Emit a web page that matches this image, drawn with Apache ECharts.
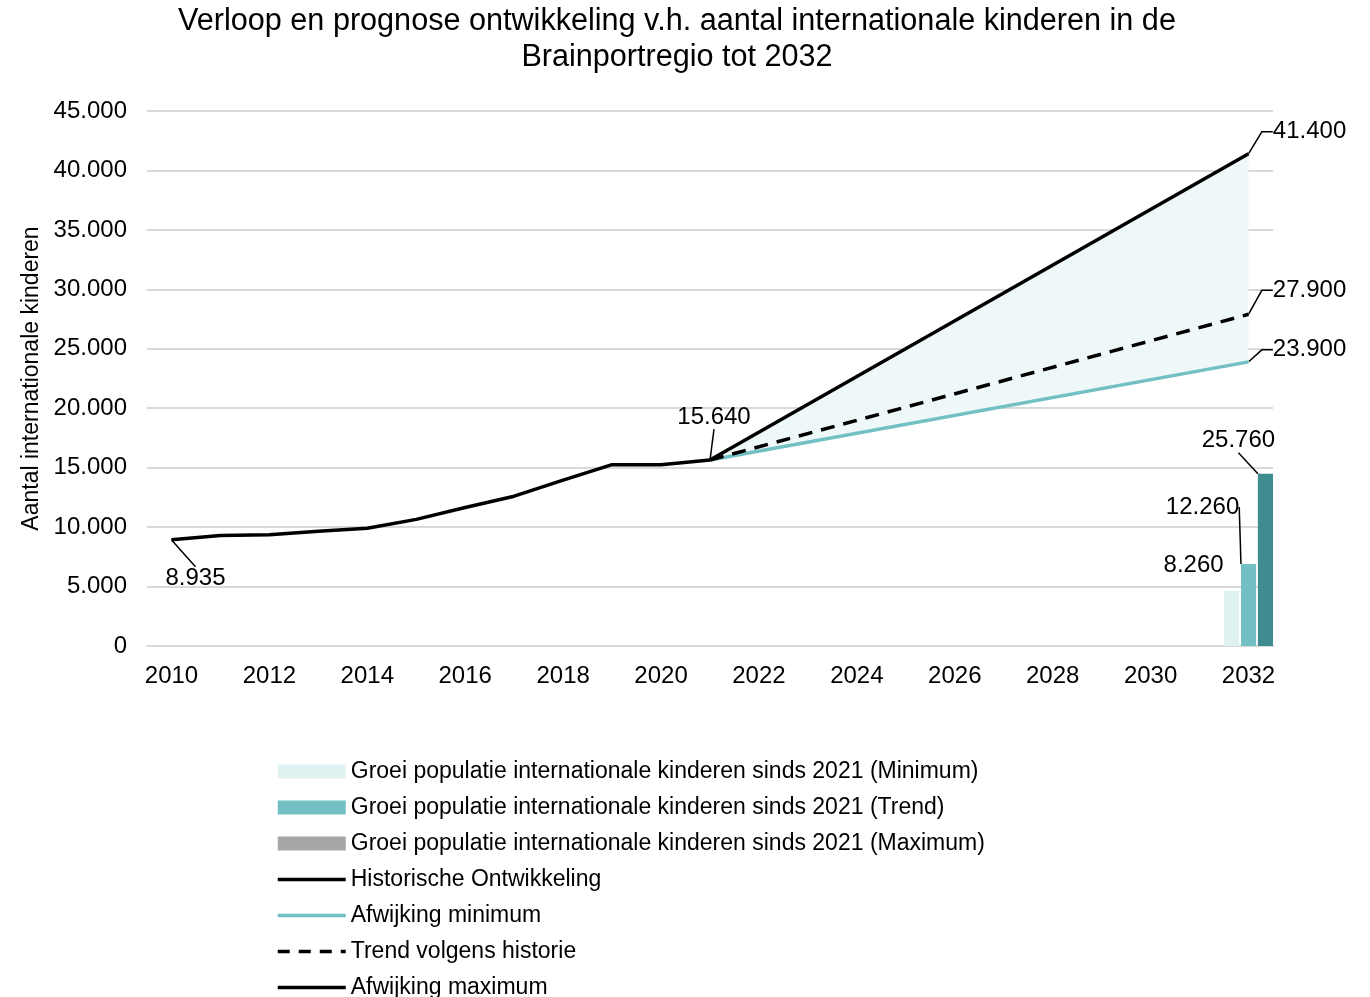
<!DOCTYPE html>
<html><head><meta charset="utf-8">
<script src="https://cdn.jsdelivr.net/npm/echarts@6/dist/echarts.min.js"></script>
<style>html,body{margin:0;padding:0;background:#fff}#c{width:1370px;height:997px}</style>
</head><body><div id="c"></div>
<script>
// ---- data ----
const years = ['2010','2011','2012','2013','2014','2015','2016','2017','2018','2019','2020','2021',
               '2022','2023','2024','2025','2026','2027','2028','2029','2030','2031','2032'];
const histYears = ['2010','2011','2012','2013','2014','2015','2016','2017','2018','2019','2020','2021'];
const historical = [8935, 9300, 9350, 9650, 9900, 10650, 11650, 12600, 13950, 15250, 15250, 15640];
const projYears = ['2021', '2032'];
const projMin = [15640, 23900];
const projTrend = [15640, 27900];
const projMax = [15640, 41400];
const barYears = ['2032'];
const growthMin = [8260];
const growthTrend = [12260];
const growthMax = [25760];
const names = [
  'Groei populatie internationale kinderen sinds 2021 (Minimum)',
  'Groei populatie internationale kinderen sinds 2021 (Trend)',
  'Groei populatie internationale kinderen sinds 2021 (Maximum)',
  'Historische Ontwikkeling',
  'Afwijking minimum',
  'Trend volgens historie',
  'Afwijking maximum'
];

const FONT = 'Liberation Sans, Arial, sans-serif';
const NUM = 24;
const fmt = v => String(v).replace(/\B(?=(\d{3})+(?!\d))/g, '.');
const labelFmt = p => fmt(Array.isArray(p.value) ? p.value[1] : p.value);
const lineLabelStyle = {color: '#000', width: 1.5};

function pairs(xs, ys) { return xs.map((x, i) => [x, ys[i]]); }
function labeled(pt, len2, showLine) {
  return {
    value: pt, symbol: 'circle', symbolSize: 1,
    label: {show: true, position: 'inside', formatter: labelFmt, fontSize: NUM, fontFamily: FONT, color: '#000'},
    labelLine: {show: showLine !== false, length2: len2 || 0, lineStyle: lineLabelStyle}
  };
}

const histData = pairs(histYears, historical).map((p, i, a) =>
  (i === 0 || i === a.length - 1) ? labeled(p, 0) : p);
function projData(vals) {
  return pairs(projYears, vals).map((p, i) => i === 1 ? labeled(p, 11) : p);
}
const bandBase = pairs(projYears, projMin);
const bandSpan = projYears.map((y, i) => [y, projMax[i] - projMin[i]]);

function barSeries(name, vals, color, dx, dy, showLine) {
  return {
    name, type: 'bar', yAxisIndex: 1, barCategoryGap: '0%', barGap: '12%',
    itemStyle: {color},
    data: pairs(barYears, vals),
    label: {show: true, position: 'top', distance: 0, formatter: labelFmt, fontSize: NUM, fontFamily: FONT, color: '#000'},
    labelLine: {show: showLine, lineStyle: lineLabelStyle},
    labelLayout: {dx, dy},
    z: 3
  };
}
const hideSym = {opacity: 0};

const chart = echarts.init(document.getElementById('c'));
chart.setOption({
  animation: false,
  title: {
    text: 'Verloop en prognose ontwikkeling v.h. aantal internationale kinderen in de\nBrainportregio tot 2032',
    left: 672, top: -1, textAlign: 'center',
    textStyle: {fontSize: 30.6, fontWeight: 'normal', color: '#000', fontFamily: FONT, lineHeight: 36}
  },
  legend: {
    orient: 'vertical', left: 276, top: 760, height: 400, padding: 0,
    itemWidth: 68, itemHeight: 14, itemGap: 13,
    textStyle: {fontSize: 23, color: '#000', fontFamily: FONT, lineHeight: 21},
    data: [
      {name: names[0], icon: 'rect'},
      {name: names[1], icon: 'rect'},
      {name: names[2], icon: 'rect', itemStyle: {color: '#a6a6a6'}},
      {name: names[3], itemStyle: hideSym, lineStyle: {width: 3.5}},
      {name: names[4], itemStyle: hideSym, lineStyle: {width: 3.5}},
      {name: names[5], itemStyle: hideSym, lineStyle: {width: 3.5, type: [12, 9]}},
      {name: names[6], itemStyle: hideSym, lineStyle: {width: 3.5}}
    ]
  },
  grid: {left: 147, right: 97, top: 111, bottom: 351},
  xAxis: {
    type: 'category', data: years, boundaryGap: true,
    axisLine: {lineStyle: {color: '#d9d9d9', width: 2}},
    axisTick: {show: false},
    axisLabel: {interval: 1, fontSize: NUM, color: '#000', fontFamily: FONT, margin: 18}
  },
  yAxis: [{
    type: 'value', min: 0, max: 45000, interval: 5000,
    name: 'Aantal internationale kinderen', nameLocation: 'middle', nameGap: 104, nameRotate: 90,
    nameTextStyle: {fontSize: 23, color: '#000', fontFamily: FONT},
    axisLine: {show: false}, axisTick: {show: false},
    splitLine: {lineStyle: {color: '#d9d9d9', width: 2}},
    axisLabel: {formatter: fmt, fontSize: NUM, color: '#000', fontFamily: FONT, margin: 20}
  }, {
    type: 'value', min: 0, max: 80000, show: false, splitLine: {show: false}
  }],
  series: [
    barSeries(names[0], growthMin, '#e0f1f1', -38, -13, false),
    barSeries(names[1], growthTrend, '#72bfc4', -46, -45, true),
    barSeries(names[2], growthMax, '#3e8c90', -27, -21, true),
    {
      name: 'bandBase', type: 'line', stack: 'band', symbol: 'none', silent: true,
      lineStyle: {opacity: 0}, data: bandBase, z: 1
    },
    {
      name: 'bandSpan', type: 'line', stack: 'band', symbol: 'none', silent: true,
      lineStyle: {opacity: 0}, areaStyle: {color: '#eff8f8', opacity: 1}, data: bandSpan, z: 1
    },
    {
      name: names[3], type: 'line', symbol: 'none', color: '#000',
      lineStyle: {color: '#000', width: 3.5}, data: histData, z: 5,
      labelLayout: p => p.dataIndex === 0 ? {dx: 24, dy: 39} : {dx: 4, dy: -43}
    },
    {
      name: names[4], type: 'line', symbol: 'none', color: '#72bfc4',
      lineStyle: {color: '#72bfc4', width: 3.5}, data: projData(projMin), z: 4,
      labelLayout: {dx: 61, dy: -12}
    },
    {
      name: names[5], type: 'line', symbol: 'none', color: '#000',
      lineStyle: {color: '#000', width: 3.5, type: [14, 9]}, data: projData(projTrend), z: 4,
      labelLayout: {dx: 61, dy: -24}
    },
    {
      name: names[6], type: 'line', symbol: 'none', color: '#000',
      lineStyle: {color: '#000', width: 3.5}, data: projData(projMax), z: 4,
      labelLayout: {dx: 61, dy: -22}
    }
  ]
});
</script>
</body></html>
